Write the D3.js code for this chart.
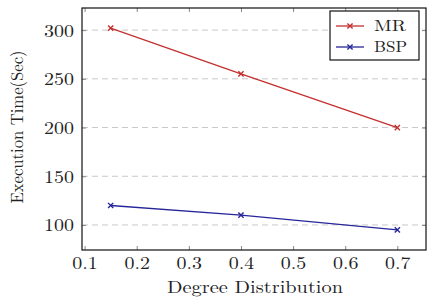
<!DOCTYPE html>
<html><head><meta charset="utf-8">
<script src="https://cdn.jsdelivr.net/npm/d3@7"></script>
<style>body{margin:0;background:#fff}svg{display:block}</style>
</head><body>
<script>
const xValues = [0.15, 0.4, 0.7];
const mrValues = [302, 255, 200];
const bspValues = [120, 110, 95];
const xTicks = [0.1, 0.2, 0.3, 0.4, 0.5, 0.6, 0.7];
const yTicks = [100, 150, 200, 250, 300];
const seriesNames = ["MR", "BSP"];
const xLabel = "Degree Distribution";
const yLabel = "Execution Time(Sec)";

const FONT = "Latin Modern Roman";
const FS = 17.5;
const W = 439, H = 301;
const L = 82, R = 426, T = 8, B = 250;
const svg = d3.select("body").append("svg").attr("width", W).attr("height", H);
const x = d3.scaleLinear().domain([0.095, 0.755]).range([L, R]);
const y = d3.scaleLinear().domain([74.3, 322.7]).range([B, T]);
const SX = 1.14;

svg.append("g").selectAll("line").data(yTicks).join("line")
  .attr("x1", L).attr("x2", R).attr("y1", d => y(d)).attr("y2", d => y(d))
  .attr("stroke", "#c8c8c8").attr("stroke-width", 1).attr("stroke-dasharray", "6,4");

const xb = svg.append("g").attr("transform", `translate(0,${B})`)
  .call(d3.axisBottom(x).tickValues(xTicks).tickSize(-4).tickPadding(0).tickFormat(d3.format(".1f")));
const xt = svg.append("g").attr("transform", `translate(0,${T})`)
  .call(d3.axisTop(x).tickValues(xTicks).tickSize(-4).tickFormat(""));
const yl = svg.append("g").attr("transform", `translate(${L},0)`)
  .call(d3.axisLeft(y).tickValues(yTicks).tickSize(-4).tickPadding(0).tickFormat(d3.format("d")));
const yr = svg.append("g").attr("transform", `translate(${R},0)`)
  .call(d3.axisRight(y).tickValues(yTicks).tickSize(-4).tickFormat(""));
[xb, xt, yl, yr].forEach(g => {
  g.attr("font-family", FONT).attr("font-size", FS);
  g.select(".domain").remove();
  g.selectAll(".tick line").attr("stroke", "#888");
});
xb.selectAll(".tick text").attr("y", 19).attr("dy", null)
  .attr("font-family", FONT).attr("font-size", FS)
  .attr("transform", `scale(${SX},1)`).attr("fill", "#222");
yl.selectAll(".tick text").attr("x", -8 / SX).attr("dy", "0.34em")
  .attr("font-family", FONT).attr("font-size", FS)
  .attr("transform", `scale(${SX},1)`).attr("fill", "#222");

svg.append("rect").attr("x", L).attr("y", T).attr("width", R - L).attr("height", B - T)
  .attr("fill", "none").attr("stroke", "#111").attr("stroke-width", 1.2);

const series = [
  {name: seriesNames[0], vals: mrValues, color: "#c42f2f"},
  {name: seriesNames[1], vals: bspValues, color: "#26269a"}
];
const line = d3.line().x(d => x(d[0])).y(d => y(d[1]));
const cross = (g, cx, cy, color) => {
  const s = 2.6;
  g.append("path").attr("d", `M${cx - s},${cy - s}L${cx + s},${cy + s}M${cx - s},${cy + s}L${cx + s},${cy - s}`)
    .attr("stroke", color).attr("stroke-width", 1.4).attr("fill", "none");
};
series.forEach(s => {
  const pts = xValues.map((v, i) => [v, s.vals[i]]);
  svg.append("path").datum(pts).attr("d", line).attr("fill", "none")
    .attr("stroke", s.color).attr("stroke-width", 1.3);
  const g = svg.append("g");
  pts.forEach(p => cross(g, x(p[0]), y(p[1]), s.color));
});

svg.append("text").attr("x", (L + R) / 2 + 1).attr("y", 293).attr("text-anchor", "middle")
  .attr("font-family", FONT).attr("font-size", FS).attr("fill", "#222")
  .attr("textLength", 176).attr("lengthAdjust", "spacingAndGlyphs").text(xLabel);
svg.append("text").attr("transform", `translate(23,${(T + B) / 2 - 2}) rotate(-90)`).attr("text-anchor", "middle")
  .attr("font-family", FONT).attr("font-size", FS).attr("fill", "#222")
  .attr("textLength", 153).attr("lengthAdjust", "spacingAndGlyphs").text(yLabel);

const lg = svg.append("g");
lg.append("rect").attr("x", 330).attr("y", 11).attr("width", 89).attr("height", 49)
  .attr("fill", "#fff").attr("stroke", "#111").attr("stroke-width", 1.2);
const legY = [26, 47];
const legW = [32, 33];
series.forEach((s, i) => {
  lg.append("line").attr("x1", 336).attr("x2", 364).attr("y1", legY[i]).attr("y2", legY[i])
    .attr("stroke", s.color).attr("stroke-width", 1.3);
  cross(lg, 350, legY[i], s.color);
  lg.append("text").attr("x", 374).attr("y", legY[i] + 5.2)
    .attr("font-family", FONT).attr("font-size", 15).attr("fill", "#222")
    .attr("textLength", legW[i]).attr("lengthAdjust", "spacingAndGlyphs").text(s.name);
});
</script>
</body></html>
